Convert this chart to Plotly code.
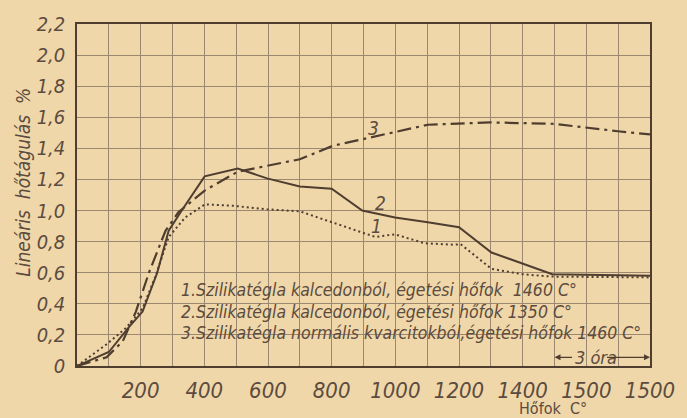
import plotly.graph_objects as go

# --- data ---------------------------------------------------------------
# x: temperature scale position (grid step 100); last 300 units = 3 h hold
x1 = [0, 93, 154, 206, 247, 288, 340, 402, 494, 597, 700, 803, 896, 937, 999, 1091, 1184, 1205, 1302, 1400, 1493, 1800]
y1 = [0, 0.14, 0.245, 0.37, 0.58, 0.83, 0.956, 1.04, 1.03, 1.008, 0.995, 0.925, 0.862, 0.83, 0.847, 0.79, 0.78, 0.784, 0.625, 0.59, 0.575, 0.57]

x2 = [0, 100, 165, 206, 252, 288, 329, 401, 505, 597, 700, 800, 896, 999, 1102, 1200, 1302, 1493, 1800]
y2 = [0, 0.09, 0.255, 0.35, 0.6, 0.87, 1.0, 1.22, 1.27, 1.207, 1.155, 1.14, 1.0, 0.956, 0.925, 0.893, 0.73, 0.59, 0.58]

x3 = [0, 93, 144, 185, 226, 278, 319, 402, 505, 700, 803, 916, 1102, 1297, 1498, 1699, 1800]
y3 = [0, 0.056, 0.16, 0.35, 0.6, 0.87, 0.99, 1.13, 1.25, 1.33, 1.416, 1.468, 1.552, 1.567, 1.558, 1.51, 1.49]

x_tick_vals = [200, 400, 600, 800, 1000, 1200, 1400, 1600, 1800]
x_tick_text = ["200", "400", "600", "800", "1000", "1200", "1400", "1500", "1500"]
y_tick_vals = [0, 0.2, 0.4, 0.6, 0.8, 1.0, 1.2, 1.4, 1.6, 1.8, 2.0, 2.2]
y_tick_text = ["0", "0,2", "0,4", "0,6", "0,8", "1,0", "1,2", "1,4", "1,6", "1,8", "2,0", "2,2"]

legend_lines = [
    "1.Szilikatégla kalcedonból, égetési hőfok  1460 C°",
    "2.Szilikatégla kalcedonból, égetési hőfok 1350 C°",
    "3.Szilikatégla normális kvarcitokból,égetési hőfok 1460 C°",
]
legend_x = 319
legend_y = [0.486, 0.35, 0.214]

curve_labels = ["1", "2", "3"]
curve_label_x = [942, 953, 930]
curve_label_y = [0.90, 1.05, 1.53]

hold_range = [1500, 1800]
hold_text = "3 óra"
hold_y = 0.056

x_title = "Hőfok  C°"
y_title = "Lineáris  hőtágulás  %"

# --- style --------------------------------------------------------------
BG = "#efd7a9"
INK = "#4f3d30"
TXT = "#5c4b3e"
GRID = "#9c8770"
FONT = "Liberation Sans Narrow, DejaVu Sans Condensed, Liberation Sans, Arial"

fig = go.Figure()
fig.add_trace(go.Scatter(x=x1, y=y1, mode="lines",
                         line=dict(color=INK, width=2, dash="2px,3px")))
fig.add_trace(go.Scatter(x=x2, y=y2, mode="lines",
                         line=dict(color=INK, width=2)))
fig.add_trace(go.Scatter(x=x3, y=y3, mode="lines",
                         line=dict(color=INK, width=2.2, dash="14px,5px,3px,5px")))

for t, lx, ly in zip(curve_labels, curve_label_x, curve_label_y):
    fig.add_annotation(x=lx, y=ly, text=t, showarrow=False,
                       font=dict(family=FONT, size=19, color=TXT, style="italic"))

for t, ly in zip(legend_lines, legend_y):
    fig.add_annotation(x=legend_x, y=ly, text=t, showarrow=False, xanchor="left",
                       font=dict(family=FONT, size=17.5, color=TXT, style="italic"))

# 3 óra arrow
fig.add_annotation(x=sum(hold_range) / 2 - 20, y=hold_y, text=hold_text, showarrow=False,
                   font=dict(family=FONT, size=18, color=TXT, style="italic"))
fig.add_annotation(x=hold_range[0], y=hold_y, ax=hold_range[0] + 60, ay=hold_y,
                   axref="x", ayref="y", text="", showarrow=True,
                   arrowhead=2, arrowsize=1, arrowwidth=1.2, arrowcolor=INK)
fig.add_annotation(x=hold_range[1], y=hold_y, ax=hold_range[1] - 140, ay=hold_y,
                   axref="x", ayref="y", text="", showarrow=True,
                   arrowhead=2, arrowsize=1, arrowwidth=1.2, arrowcolor=INK)

fig.add_annotation(xref="paper", yref="paper", x=0.83, y=-0.125, text=x_title,
                   xanchor="center", yanchor="middle",
                   showarrow=False, font=dict(family=FONT, size=16, color=TXT))
fig.add_annotation(xref="paper", yref="paper", x=-0.094, y=0.536, text=y_title,
                   xanchor="center", yanchor="middle",
                   textangle=-90, showarrow=False,
                   font=dict(family=FONT, size=19, color=TXT, style="italic"))

fig.update_layout(
    width=687, height=418,
    margin=dict(l=77, r=28, t=15, b=52),
    paper_bgcolor=BG, plot_bgcolor=BG,
    showlegend=False,
)
fig.update_xaxes(range=[0, 1800], tickmode="array", tickvals=x_tick_vals, ticktext=x_tick_text,
                 showgrid=True, gridcolor=GRID, gridwidth=0.8,
                 minor=dict(dtick=100, showgrid=True, gridcolor=GRID, gridwidth=0.8),
                 showline=True, linecolor=INK, linewidth=1.5, mirror=True,
                 zeroline=False, ticks="", ticklabelstandoff=4,
                 tickfont=dict(family=FONT, size=22, color=TXT, style="italic"))
fig.update_yaxes(range=[0, 2.2], tickmode="array", tickvals=y_tick_vals, ticktext=y_tick_text,
                 showgrid=True, gridcolor=GRID, gridwidth=0.8,
                 showline=True, linecolor=INK, linewidth=1.5, mirror=True,
                 zeroline=False, ticks="", ticklabelstandoff=6,
                 tickfont=dict(family=FONT, size=20, color=TXT, style="italic"))

fig.write_html("out.html")
